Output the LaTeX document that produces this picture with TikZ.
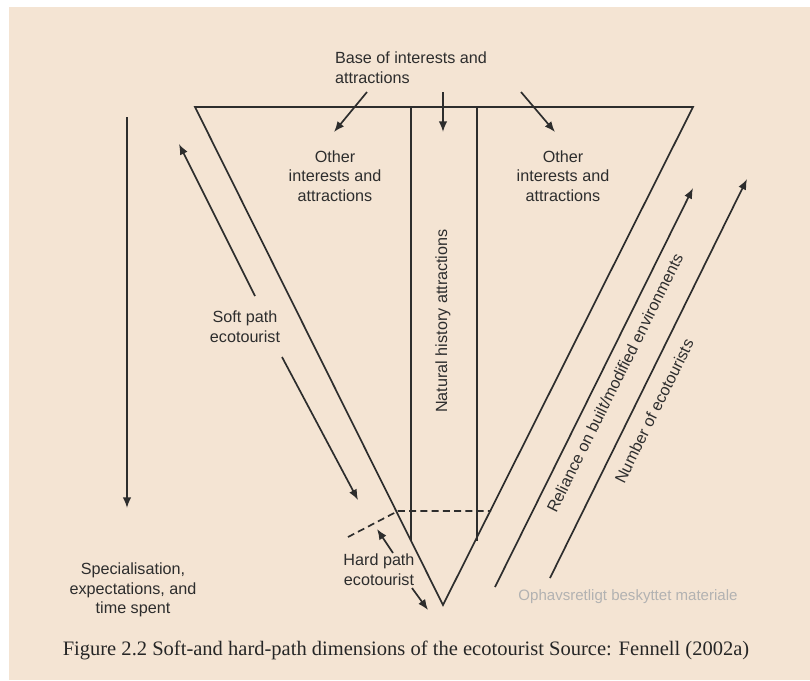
\documentclass[tikz,border=0pt]{standalone}
\usepackage{fontspec}
\setmainfont{Liberation Serif}
\setsansfont{Liberation Sans}
\usetikzlibrary{arrows.meta}

\definecolor{paper}{RGB}{244,228,211}
\definecolor{ink}{RGB}{45,45,45}

\tikzset{
  line/.style={ink, line width=1.2pt},
  arrow/.style={line, -{Latex[length=7.5pt,width=6pt]}},
  label/.style={font=\sffamily\fontsize{11.5}{14}\selectfont, text=ink, align=center, inner sep=0pt},
}

\begin{document}
\begin{tikzpicture}[x=0.025cm, y=-0.025cm]
\def \top {107}
\def \bot {541}

% paper
\fill[white] (0,0) rectangle (810,680);
\fill[paper] (9,7) rectangle (810,680);
\useasboundingbox (0,0) rectangle (810,680);

% draw the triangle
\coordinate (tl) at (195,\top);
\coordinate (tr) at (693,\top);
\coordinate (apex) at (443,605);
\draw[line] (tl) -- (tr) -- (apex) -- cycle;

% the natural history column
\foreach \x [count=\i] in {411,477} {
    \coordinate (c\i t) at (\x,\top);
    \coordinate (c\i b) at (\x,\bot);
    \draw[line] (c\i t) -- (c\i b);
}

% hard path cut
\coordinate (d1) at (348,537);
\coordinate (d2) at (398,511);
\coordinate (d3) at (491,511);
\draw[line, dash pattern=on 5pt off 3pt] (d1) -- (d2) -- (d3);

% labels
\node[label, align=left] (base) at (411,68) {Base of interests and\\attractions};
\node[label] (otherL) at (335,176) {Other\\interests and\\attractions};
\node[label] (otherR) at (563,176) {Other\\interests and\\attractions};
\node[label, rotate=90] (natural) at (443,321) {Natural history attractions};
\node[label] (soft) at (245,327) {Soft path\\ecotourist};
\node[label] (hard) at (379,570) {Hard path\\ecotourist};
\node[label] (spec) at (133,590) {Specialisation,\\expectations, and\\time spent};

% arrows from the base
\foreach \s/\e [count=\i] in {367/334, 443/443, 521/555} {
    \coordinate (b\i s) at (\s,92);
    \coordinate (b\i e) at (\e,132);
    \draw[arrow] (b\i s) -- (b\i e);
}

% specialisation
\coordinate (sp1) at (127,117);
\coordinate (sp2) at (127,508);
\draw[arrow] (sp1) -- (sp2);

% soft path
\coordinate (s1) at (255,296);
\coordinate (s2) at (179,144);
\coordinate (s3) at (282,357);
\coordinate (s4) at (358,500);
\draw[arrow] (s1) -- (s2);
\draw[arrow] (s3) -- (s4);

% hard path
\coordinate (h1) at (393,553);
\coordinate (h2) at (377,529);
\coordinate (h3) at (412,588);
\coordinate (h4) at (428,610);
\draw[arrow] (h1) -- (h2);
\draw[arrow] (h3) -- (h4);

% reliance and number
\coordinate (r1) at (495,587);
\coordinate (r2) at (693,188);
\coordinate (n1) at (550,578);
\coordinate (n2) at (747,179);
\draw[arrow] (r1) -- (r2) node[label, sloped, pos=0.53, below=7pt] (reliance) {Reliance on built/modified environments};
\draw[arrow] (n1) -- (n2) node[label, sloped, pos=0.44, below=9pt] (number) {Number of ecotourists};

% watermark and caption
\node[font=\sffamily\fontsize{10.7}{13}\selectfont, text=black!30] (watermark) at (628,597) {Ophavsretligt beskyttet materiale};
\node[font=\fontsize{14.6}{17}\selectfont, text=black!85] (caption) at (406,650) {Figure 2.2 Soft-and hard-path dimensions of the ecotourist Source: Fennell (2002a)};

\end{tikzpicture}
\end{document}
